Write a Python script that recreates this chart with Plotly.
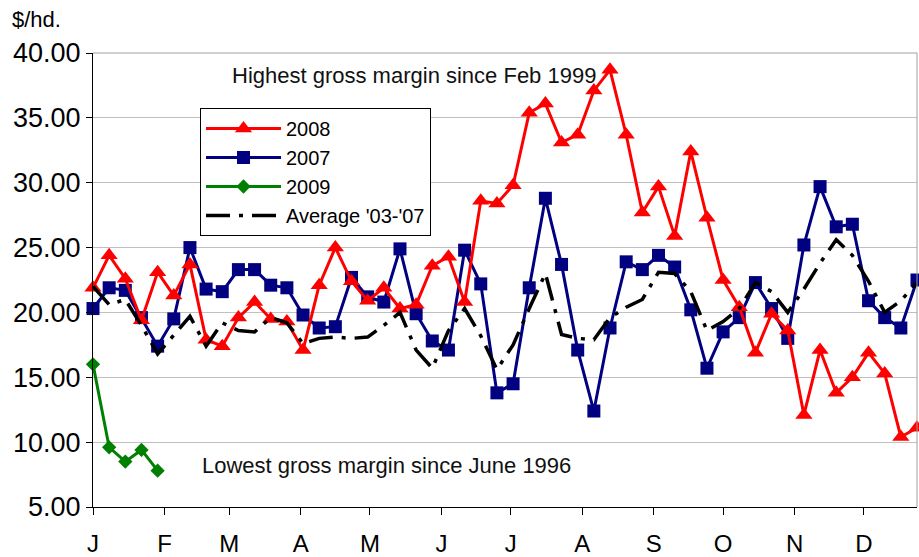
import plotly.graph_objects as go
import pandas as pd

# ---- data (weekly, 52 weeks) ----
week_start = "2007-01-01"
n_weeks = 52
weeks = pd.date_range(week_start, periods=n_weeks, freq="7D")

month_ticks = pd.date_range("2007-01-01", periods=12, freq="MS")
month_labels = ["J", "F", "M", "A", "M", "J", "J", "A", "S", "O", "N", "D"]
y_ticks = [5, 10, 15, 20, 25, 30, 35, 40]

s2008 = [21.9, 24.4, 22.6, 19.4, 23.1, 21.3, 23.7, 17.9, 17.4, 19.6,
         20.8, 19.5, 19.3, 17.1, 22.1, 25.0, 22.4, 20.9, 21.9, 20.3,
         20.6, 23.6, 24.3, 20.8, 28.6, 28.4, 29.8, 35.4, 36.1, 33.1,
         33.7, 37.1, 38.7, 33.7, 27.7, 29.7, 25.9, 32.4, 27.3, 22.5,
         20.4, 16.9, 19.9, 18.6, 12.1, 17.1, 13.8, 15.0, 16.9, 15.3,
         10.4, 11.1]
s2007 = [20.3, 21.9, 21.7, 19.6, 17.4, 19.5, 25.0, 21.8, 21.6, 23.3,
         23.3, 22.1, 21.9, 19.8, 18.8, 18.9, 22.7, 21.2, 20.8, 24.9,
         19.9, 17.8, 17.1, 24.8, 22.2, 13.8, 14.5, 21.9, 28.8, 23.7,
         17.1, 12.4, 18.8, 23.9, 23.3, 24.4, 23.5, 20.2, 15.7, 18.5,
         19.6, 22.3, 20.3, 18.0, 25.2, 29.7, 26.6, 26.8, 20.9, 19.6,
         18.8, 22.5]
s2009 = [16.0, 9.6, 8.5, 9.4, 7.8]
avg_03_07 = [22.0, 20.6, 21.0, 19.0, 16.8, 18.3, 19.7, 17.4, 19.2, 18.6,
             18.5, 19.6, 19.2, 17.6, 18.0, 18.1, 18.0, 18.1, 19.0, 20.0,
             17.1, 15.7, 18.6, 20.3, 18.2, 15.6, 17.5, 20.3, 23.0, 18.3,
             18.0, 17.9, 19.6, 20.4, 21.0, 23.1, 23.0, 21.6, 18.6, 19.3,
             20.3, 22.3, 21.6, 20.0, 21.8, 23.8, 25.6, 24.4, 22.4, 20.0,
             20.9, 22.3]

FONT = "Liberation Sans, Arial, sans-serif"

fig = go.Figure()
fig.add_trace(go.Scatter(
    x=weeks, y=s2007, name="2007", mode="lines+markers", legendrank=2,
    line=dict(color="#000080", width=3),
    marker=dict(symbol="square", size=13, color="#000080"),
    cliponaxis=False))
fig.add_trace(go.Scatter(
    x=weeks, y=s2008, name="2008", mode="lines+markers", legendrank=1,
    line=dict(color="#FF0000", width=3),
    marker=dict(symbol="triangle-up", size=15, color="#FF0000"),
    cliponaxis=False))
fig.add_trace(go.Scatter(
    x=weeks[:len(s2009)], y=s2009, name="2009", mode="lines+markers", legendrank=3,
    line=dict(color="#008000", width=3),
    marker=dict(symbol="diamond", size=11, color="#008000"),
    cliponaxis=False))
fig.add_trace(go.Scatter(
    x=weeks, y=avg_03_07, name="Average '03-'07", mode="lines", legendrank=4,
    line=dict(color="#000000", width=3.5, dash="24px,9px,4px,9px")))

fig.update_layout(
    width=919, height=557,
    margin=dict(l=93, r=2, t=53, b=50, autoexpand=False),
    paper_bgcolor="white", plot_bgcolor="white",
    font=dict(family=FONT, color="#000000", size=20),
    showlegend=True,
    legend=dict(
        x=(200 - 93) / 824, y=(507 - 108) / 454, xanchor="left", yanchor="top",
        bgcolor="white", bordercolor="#000000", borderwidth=1,
        font=dict(family=FONT, size=20, color="#000000"),
        itemwidth=75, tracegroupgap=0,
    ),
    xaxis=dict(
        type="date", automargin=False,
        range=["2007-01-01", "2007-12-24"],
        tickmode="array", tickvals=month_ticks, ticktext=month_labels,
        showgrid=False, showline=True, linecolor="#000000", linewidth=1,
        ticks="outside", ticklen=7, tickcolor="#000000", tickwidth=1,
        tickfont=dict(family=FONT, size=24, color="#000000"),
        ticklabelstandoff=8, zeroline=False, fixedrange=True,
    ),
    yaxis=dict(
        range=[5, 40], automargin=False,
        tickmode="array", tickvals=y_ticks, tickformat=".2f",
        showgrid=True, gridcolor="#C0C0C0", gridwidth=1,
        showline=True, linecolor="#000000", linewidth=1,
        ticks="outside", ticklen=6, tickcolor="#000000", tickwidth=1,
        tickfont=dict(family=FONT, size=27, color="#000000"),
        zeroline=False, fixedrange=True,
    ),
    shapes=[
        dict(type="line", xref="paper", yref="paper", x0=0, x1=1, y0=1, y1=1,
             line=dict(color="#A0A0A0", width=1)),
        dict(type="line", xref="paper", yref="paper", x0=1, x1=1, y0=0, y1=1,
             line=dict(color="#A0A0A0", width=1)),
    ],
    annotations=[
        dict(text="$/hd.", xref="paper", yref="paper", x=(10 - 93) / 824, y=(507 - 19) / 454,
             xanchor="left", yanchor="middle", showarrow=False,
             font=dict(family=FONT, size=22, color="#000000")),
        dict(text="Highest gross margin since Feb 1999", xref="paper", yref="paper",
             x=(230 - 93) / 824, y=(507 - 75) / 454, xanchor="left", yanchor="middle",
             showarrow=False, font=dict(family=FONT, size=22, color="#111111")),
        dict(text="Lowest gross margin since June 1996", xref="paper", yref="paper",
             x=(200 - 93) / 824, y=(507 - 465) / 454, xanchor="left", yanchor="middle",
             showarrow=False, font=dict(family=FONT, size=22, color="#111111")),
    ],
)

# remove the browser's default 8px body margin so the figure fills the window
fig.write_html("out.html",
               config={"displayModeBar": False},
               post_script="document.body.style.margin='0';document.body.style.overflow='hidden';")
